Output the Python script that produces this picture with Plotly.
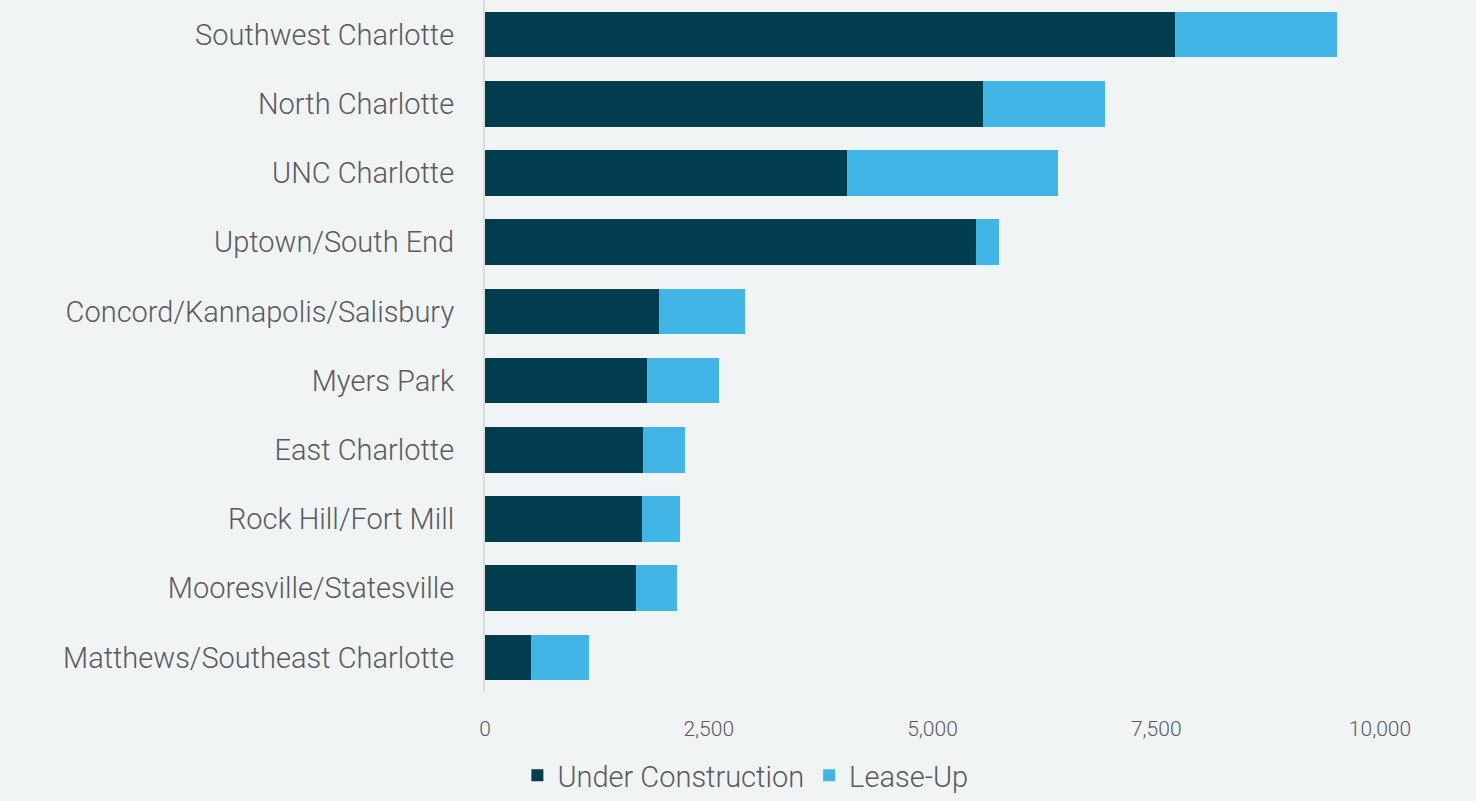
import plotly.graph_objects as go

submarkets = [
    "Southwest Charlotte",
    "North Charlotte",
    "UNC Charlotte",
    "Uptown/South End",
    "Concord/Kannapolis/Salisbury",
    "Myers Park",
    "East Charlotte",
    "Rock Hill/Fort Mill",
    "Mooresville/Statesville",
    "Matthews/Southeast Charlotte",
]
under_construction = [7710, 5565, 4045, 5485, 1945, 1810, 1765, 1755, 1685, 515]
lease_up = [1810, 1360, 2355, 260, 960, 805, 470, 425, 460, 645]

x_ticks = [0, 2500, 5000, 7500, 10000]
x_tick_labels = ["0", "2,500", "5,000", "7,500", "10,000"]

DARK = "#003d4f"
LIGHT = "#41b6e6"
BG = "#f0f4f5"
TXT = "#5a5a5a"
FONT = "Roboto"

fig = go.Figure()
fig.add_trace(go.Bar(
    y=submarkets, x=under_construction, orientation="h",
    name="Under Construction", marker=dict(color=DARK, line=dict(width=0)),
))
fig.add_trace(go.Bar(
    y=submarkets, x=lease_up, orientation="h",
    name="Lease-Up", marker=dict(color=LIGHT, line=dict(width=0)),
))

fig.update_layout(
    barmode="stack",
    bargap=0.34,
    width=1476, height=801,
    paper_bgcolor=BG, plot_bgcolor=BG,
    margin=dict(l=485, r=96, t=0, b=109),
    font=dict(family=FONT, color=TXT, size=24),
    showlegend=True,
    legend=dict(
        orientation="h", x=0.505, xref="container", xanchor="center",
        y=783, yref="container", yanchor="middle",
        font=dict(family=FONT, size=29, color=TXT, weight=300),
        itemwidth=30, traceorder="normal",
        bgcolor="rgba(0,0,0,0)",
    ),
    xaxis=dict(
        range=[0, 10000], tickvals=x_ticks, ticktext=x_tick_labels,
        showgrid=False, zeroline=False, showline=False,
        tickfont=dict(family=FONT, size=21, color=TXT, weight=300),
        ticklabelstandoff=22,
    ),
    yaxis=dict(
        autorange="reversed", categoryorder="array", categoryarray=submarkets,
        showgrid=False, zeroline=False,
        showline=True, linecolor="#dcdcdc", linewidth=2,
        tickfont=dict(family=FONT, size=29, color=TXT, weight=300),
        ticklabelstandoff=23,
    ),
)

fig.write_html("out.html")
